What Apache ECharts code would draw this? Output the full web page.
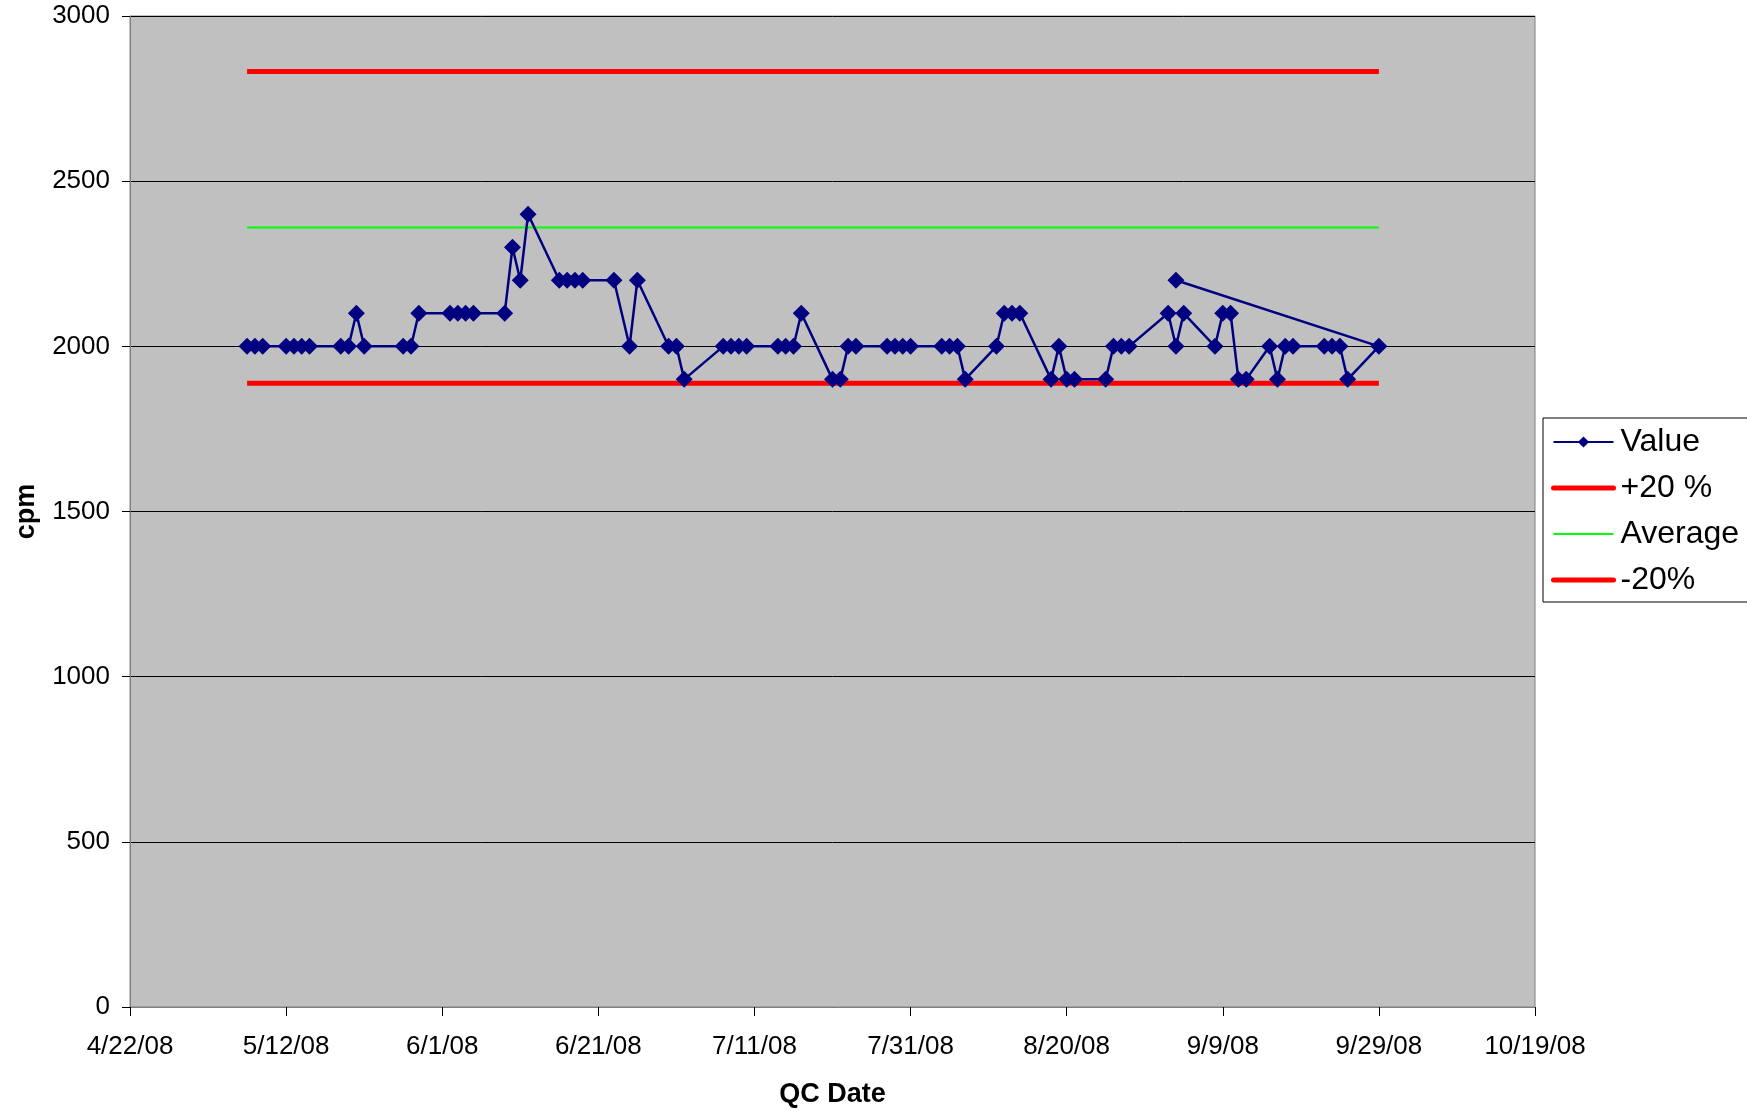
<!DOCTYPE html>
<html>
<head>
    <meta charset="UTF-8">
    <title>QC chart</title>
    <script type="text/javascript" src="https://cdn.jsdelivr.net/npm/echarts@6/dist/echarts.min.js"></script>
    <style>
        html, body { margin: 0; padding: 0; background: #fff; }
        #chart { width: 1747px; height: 1111px; }
    </style>
</head>
<body>
<div id="chart"></div>

<script type="text/javascript">
    // QC readings (date, cpm) in the order they were entered
    var valueDates = [
        '5/7/08', '5/8/08', '5/9/08', '5/12/08', '5/13/08', '5/14/08', '5/15/08', '5/19/08', '5/20/08', '5/21/08',
        '5/22/08', '5/27/08', '5/28/08', '5/29/08', '6/2/08', '6/3/08', '6/4/08', '6/5/08', '6/9/08', '6/10/08',
        '6/11/08', '6/12/08', '6/16/08', '6/17/08', '6/18/08', '6/19/08', '6/23/08', '6/25/08', '6/26/08', '6/30/08',
        '7/1/08', '7/2/08', '7/7/08', '7/8/08', '7/9/08', '7/10/08', '7/14/08', '7/15/08', '7/16/08', '7/17/08',
        '7/21/08', '7/22/08', '7/23/08', '7/24/08', '7/28/08', '7/29/08', '7/30/08', '7/31/08', '8/4/08', '8/5/08',
        '8/6/08', '8/7/08', '8/11/08', '8/12/08', '8/13/08', '8/14/08', '8/18/08', '8/19/08', '8/20/08', '8/21/08',
        '8/25/08', '8/26/08', '8/27/08', '8/28/08', '9/2/08', '9/3/08', '9/4/08', '9/8/08', '9/9/08', '9/10/08',
        '9/11/08', '9/12/08', '9/15/08', '9/16/08', '9/17/08', '9/18/08', '9/22/08', '9/23/08', '9/24/08', '9/25/08',
        '9/29/08', '9/3/08'
    ];
    var valueCpm = [
        2000, 2000, 2000, 2000, 2000, 2000, 2000, 2000, 2000, 2100,
        2000, 2000, 2000, 2100, 2100, 2100, 2100, 2100, 2100, 2300,
        2200, 2400, 2200, 2200, 2200, 2200, 2200, 2000, 2200, 2000,
        2000, 1900, 2000, 2000, 2000, 2000, 2000, 2000, 2000, 2100,
        1900, 1900, 2000, 2000, 2000, 2000, 2000, 2000, 2000, 2000,
        2000, 1900, 2000, 2100, 2100, 2100, 1900, 2000, 1900, 1900,
        1900, 2000, 2000, 2000, 2100, 2000, 2100, 2000, 2100, 2100,
        1900, 1900, 2000, 1900, 2000, 2000, 2000, 2000, 2000, 1900,
        2000, 2200
    ];

    // reference lines
    var limitDates = ['5/7/08', '9/29/08'];
    var upperLimit = [2832, 2832];
    var averageCpm = [2360, 2360];
    var lowerLimit = [1888, 1888];

    var xTickLabels = ['4/22/08', '5/12/08', '6/1/08', '6/21/08', '7/11/08', '7/31/08', '8/20/08', '9/9/08', '9/29/08', '10/19/08'];

    // days counted from 4/22/08
    function dayOf(str) {
        var p = str.split('/');
        var t = Date.UTC(2000 + Number(p[2]), Number(p[0]) - 1, Number(p[1]));
        return Math.round((t - Date.UTC(2008, 3, 22)) / 86400000);
    }

    function pairs(dates, vals) {
        var out = [];
        for (var i = 0; i < dates.length; i++) {
            out.push([dayOf(dates[i]), vals[i]]);
        }
        return out;
    }

    var font = 'Liberation Sans';
    var chart = echarts.init(document.getElementById('chart'));

    // plain lines in the legend, no dot
    var noDot = { opacity: 0 };

    chart.setOption({
        animation: false,
        textStyle: { fontFamily: font },
        grid: {
            left: 130,
            right: 212,
            top: 16,
            bottom: 104,
            outerBoundsMode: 'none',
            containLabel: false,
            show: true,
            backgroundColor: '#C0C0C0',
            borderColor: '#808080',
            borderWidth: 1
        },
        legend: {
            orient: 'vertical',
            left: 1543,
            top: 418,
            data: [
                { name: 'Value' },
                { name: '+20 %', itemStyle: noDot, lineStyle: { width: 5, cap: 'round' } },
                { name: 'Average', itemStyle: noDot, lineStyle: { width: 2 } },
                { name: '-20%', itemStyle: noDot, lineStyle: { width: 5, cap: 'round' } }
            ],
            backgroundColor: '#fff',
            borderColor: '#000',
            borderWidth: 1,
            padding: [8, 20, 6, 8],
            itemWidth: 60,
            itemHeight: 14,
            itemGap: 14,
            textStyle: { fontFamily: font, fontSize: 32, color: '#000', padding: [0, 0, 0, 2] }
        },
        xAxis: {
            type: 'value',
            min: 0,
            max: 180,
            interval: 20,
            name: 'QC Date',
            nameLocation: 'middle',
            nameGap: 74,
            nameTextStyle: { fontFamily: font, fontSize: 27, fontWeight: 'bold', color: '#000' },
            axisLine: { show: true, lineStyle: { color: '#808080', width: 1 } },
            axisTick: { show: true, inside: false, length: 9, lineStyle: { color: '#000' } },
            axisLabel: {
                margin: 27,
                fontSize: 26,
                color: '#000',
                formatter: function (v) { return xTickLabels[Math.round(v / 20)] || ''; }
            },
            splitLine: { show: false }
        },
        yAxis: {
            type: 'value',
            min: 0,
            max: 3000,
            interval: 500,
            name: 'cpm',
            nameLocation: 'middle',
            nameGap: 90,
            nameTextStyle: { fontFamily: font, fontSize: 27, fontWeight: 'bold', color: '#000' },
            axisLine: { show: true, lineStyle: { color: '#808080', width: 1 } },
            axisTick: { show: true, length: 8, lineStyle: { color: '#000' } },
            axisLabel: {
                margin: 20,
                fontSize: 26,
                color: '#000',
                formatter: function (v) { return String(v); }
            },
            splitLine: { show: true, lineStyle: { color: '#000', width: 1 } }
        },
        series: [
            {
                name: '+20 %',
                type: 'line',
                data: pairs(limitDates, upperLimit),
                symbol: 'none',
                lineStyle: { color: '#FF0000', width: 5 },
                itemStyle: { color: '#FF0000' },
                z: 2
            },
            {
                name: 'Average',
                type: 'line',
                data: pairs(limitDates, averageCpm),
                symbol: 'none',
                lineStyle: { color: '#00FF00', width: 2 },
                itemStyle: { color: '#00FF00' },
                z: 2
            },
            {
                name: '-20%',
                type: 'line',
                data: pairs(limitDates, lowerLimit),
                symbol: 'none',
                lineStyle: { color: '#FF0000', width: 5 },
                itemStyle: { color: '#FF0000' },
                z: 2
            },
            {
                name: 'Value',
                type: 'line',
                data: pairs(valueDates, valueCpm),
                symbol: 'diamond',
                symbolSize: 17,
                lineStyle: { color: '#000080', width: 2.5 },
                itemStyle: { color: '#000080' },
                z: 3
            }
        ]
    });
</script>
</body>
</html>
